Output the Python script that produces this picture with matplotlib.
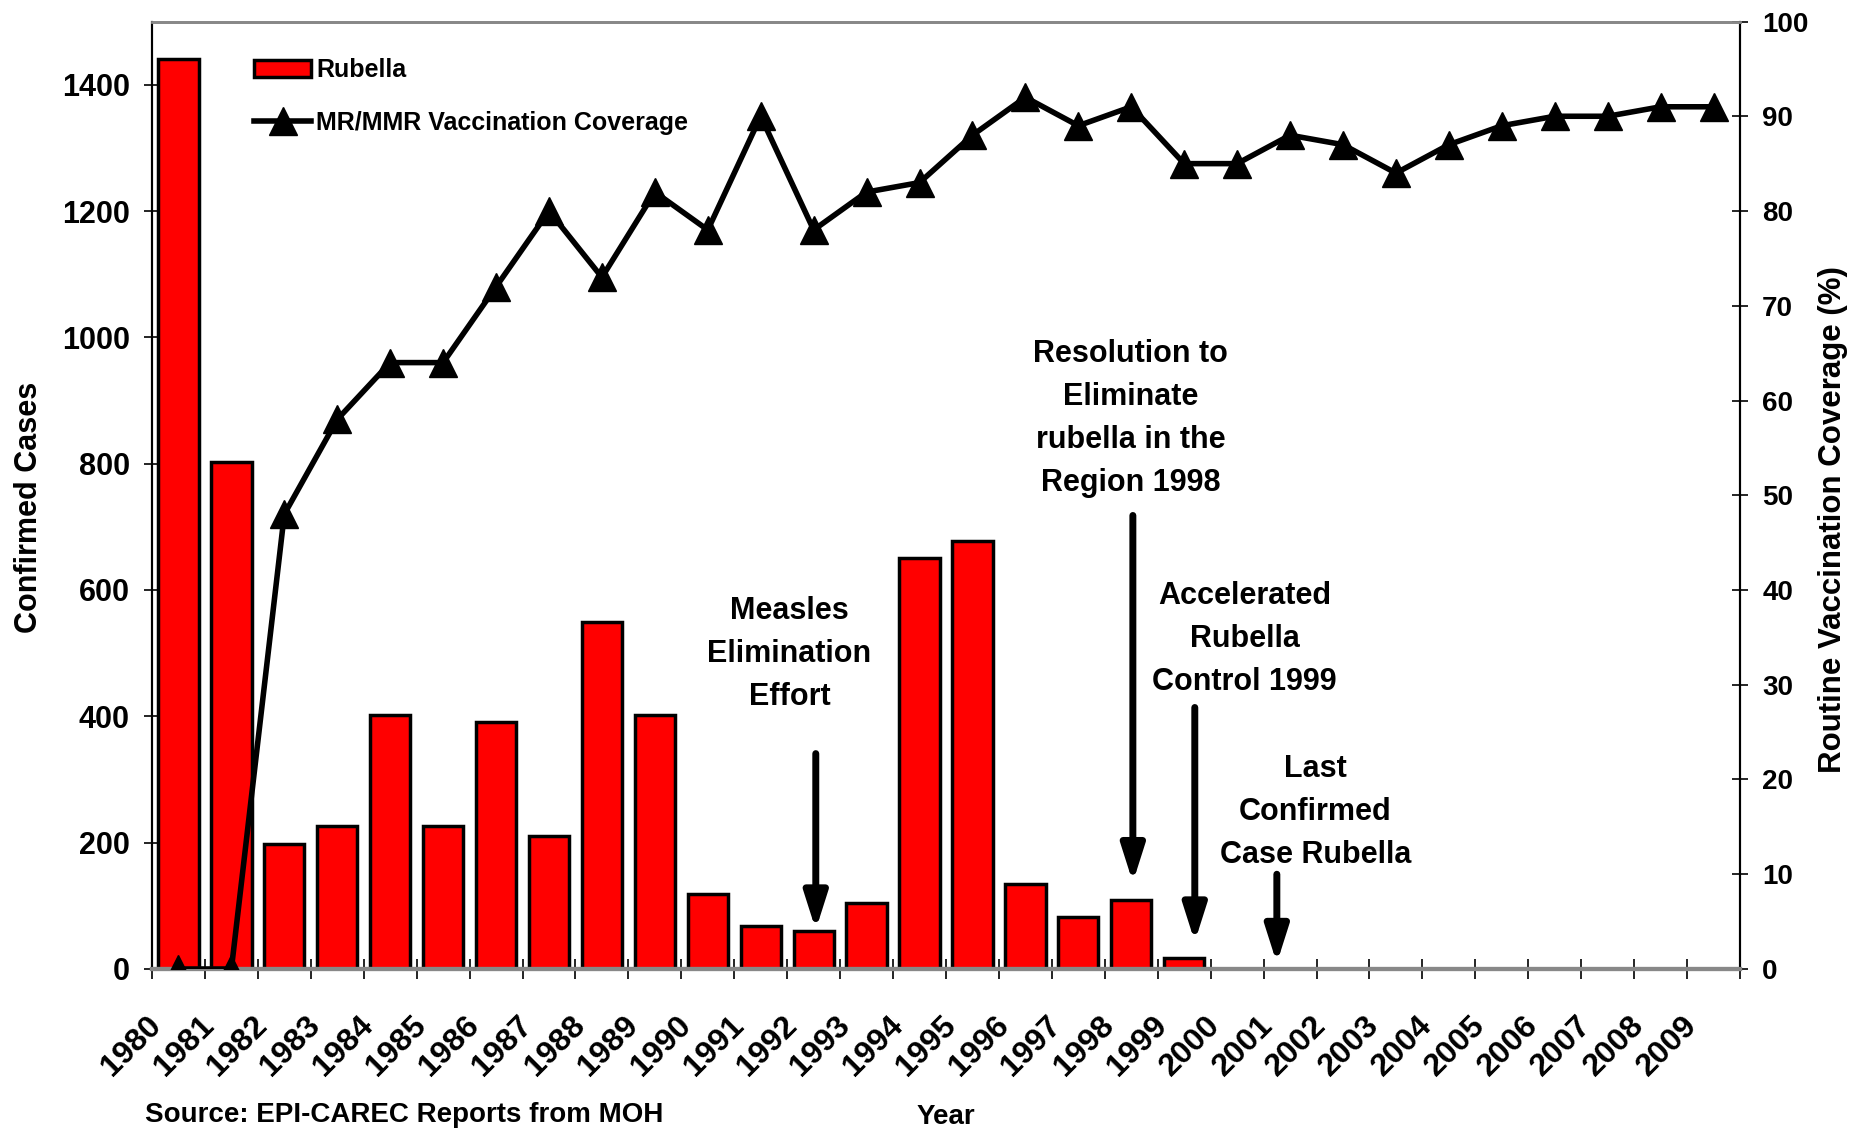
import numpy as np
import matplotlib
matplotlib.use("Agg")
import matplotlib.pyplot as plt
from matplotlib.transforms import ScaledTranslation

plt.rcParams['font.family'] = ['Liberation Sans Narrow', 'Liberation Sans', 'DejaVu Sans']
plt.rcParams['font.weight'] = 'bold'

years = [str(y) for y in range(1980, 2010)]
rubella_cases = [1440, 803, 198, 227, 402, 227, 391, 210, 550, 402,
                 118, 68, 60, 104, 650, 677, 134, 83, 110, 18,
                 0, 0, 0, 0, 0, 0, 0, 0, 0, 0]
coverage = [0, 0, 48, 58, 64, 64, 72, 80, 73, 82,
            78, 90, 78, 82, 83, 88, 92, 89, 91, 85,
            85, 88, 87, 84, 87, 89, 90, 90, 91, 91]

x = np.arange(len(years))

fig = plt.figure(figsize=(18.58, 11.32), dpi=100)
ax = fig.add_axes([0.0818, 0.144, 0.8547, 0.837])
ax2 = ax.twinx()

bars = ax.bar(x, rubella_cases, width=0.76, color='#ff0000', edgecolor='black',
              linewidth=2.5, label='Rubella', zorder=2)
line, = ax2.plot(x, coverage, color='black', lw=4, marker='^', markersize=20,
                 label='MR/MMR Vaccination Coverage', zorder=3)

ax.set_xlim(-0.5, len(years) - 0.5)
ax.set_ylim(0, 1500)
ax2.set_ylim(0, 100)
ax.set_yticks(np.arange(0, 1401, 200))
ax2.set_yticks(np.arange(0, 101, 10))

# tick marks sit between the years; year labels hang below the bar centres
ax.set_xticks(np.arange(-0.5, len(years), 1.0))
ax.set_xticklabels([])
ax.tick_params(axis='x', which='major', length=14, direction='inout', width=1.2)
ax.tick_params(axis='y', length=12, direction='inout', width=1.2, labelsize=22, pad=10)
ax2.tick_params(axis='y', length=12, direction='inout', width=1.2, labelsize=20, pad=10)

year_tf = ax.get_xaxis_transform() + ScaledTranslation(-23 / 72, -30 / 72, fig.dpi_scale_trans)
for xi, yr in zip(x, years):
    ax.text(xi, 0, yr, transform=year_tf, rotation=45, ha='right', va='top',
            rotation_mode='anchor', fontsize=23, fontweight='bold', clip_on=False)

for t in ax.get_yticklabels() + ax2.get_yticklabels():
    t.set_fontweight('bold')

for a in (ax, ax2):
    a.spines['top'].set_color('#888888')
    a.spines['top'].set_linewidth(2)
    a.spines['bottom'].set_color('#888888')
    a.spines['bottom'].set_linewidth(3)
    a.spines['left'].set_linewidth(1.5)
    a.spines['right'].set_linewidth(1.5)

ax.set_ylabel('Confirmed Cases', fontsize=22, fontweight='bold')
ax.yaxis.set_label_coords(-0.068, 0.487)
ax2.set_ylabel('Routine Vaccination Coverage (%)', fontsize=22.5, fontweight='bold')
ax2.yaxis.set_label_coords(1.049, 0.474)

fig.text(0.078, 0.015, 'Source: EPI-CAREC Reports from MOH', fontsize=20,
         fontweight='bold', ha='left', va='center')
fig.text(0.509, 0.013, 'Year', fontsize=20, fontweight='bold',
         ha='center', va='center')

ax.legend(handles=[bars, line], loc='upper left', bbox_to_anchor=(0.05, 0.985),
          frameon=False, handlelength=2.3, labelspacing=1.15,
          handletextpad=0.2, prop={'weight': 'bold', 'size': 18})

# event annotations
notes = [
    ("Measles\nElimination\nEffort", 11.54, 499, 12.04, 341, 62),
    ("Resolution to\nEliminate\nrubella in the\nRegion 1998", 17.99, 871, 18.03, 718, 137),
    ("Accelerated\nRubella\nControl 1999", 20.14, 523, 19.2, 414, 43),
    ("Last\nConfirmed\nCase Rubella", 21.48, 248, 20.75, 150, 9),
]
for label, tx, ty, ax_x, y_start, y_tip in notes:
    ax.text(tx, ty, label, ha='center', va='center', fontsize=22,
            fontweight='bold', linespacing=1.57, zorder=5)
    ax.annotate('', xy=(ax_x, y_tip), xytext=(ax_x, y_start),
                arrowprops=dict(arrowstyle='-|>,head_width=0.35,head_length=1.1',
                                lw=5, color='black', shrinkA=0, shrinkB=0,
                                mutation_scale=20),
                zorder=5)

fig.savefig('out.png', dpi=100)
